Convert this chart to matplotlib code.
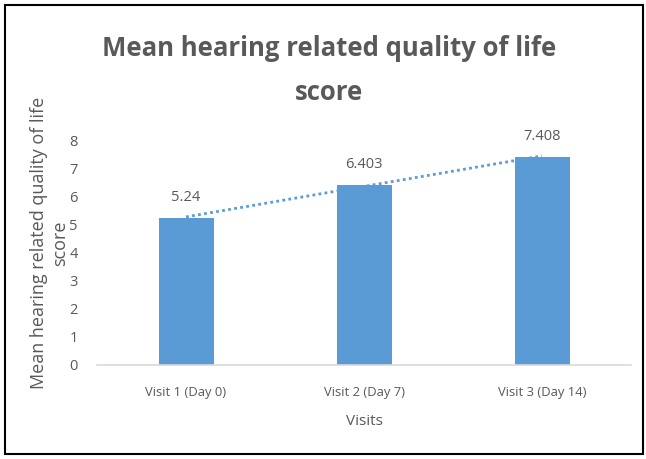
import matplotlib
matplotlib.use("Agg")
import matplotlib.pyplot as plt
import numpy as np
from matplotlib.patches import Rectangle

categories = ["Visit 1 (Day 0)", "Visit 2 (Day 7)", "Visit 3 (Day 14)"]
values = [5.24, 6.403, 7.408]
value_labels = ["5.24", "6.403", "7.408"]
yticks = [0, 1, 2, 3, 4, 5, 6, 7, 8]

plt.rcParams['font.family'] = ['Open Sans', 'DejaVu Sans']
grey = "#595959"
blue = "#5B9BD5"

fig = plt.figure(figsize=(6.46, 4.59), dpi=100)
ax = fig.add_axes([97/646, 1-365/459, (631-97)/646, (365-140)/459])

x = np.arange(len(categories))
ax.bar(x, values, width=55/178, color=blue, zorder=2)

# linear trendline
coef = np.polyfit(x, values, 1)
tx = np.array([x[0], x[-1]])
ax.plot(tx, np.polyval(coef, tx), linestyle=(0, (1, 1.2)), color=blue, lw=2, zorder=3)

for xi, v, lab in zip(x, values, value_labels):
    ax.annotate(lab, (xi, v), xytext=(0, 9), textcoords="offset points",
                ha="center", va="bottom", fontsize=10.5, color=grey)

ax.set_xlim(-0.5, 2.5)
ax.set_ylim(0, 8)
ax.set_yticks(yticks)
ax.set_xticks(x)
ax.set_xticklabels(categories, fontsize=9.4, color=grey)
ax.tick_params(axis='y', length=0, pad=14, labelcolor=grey, labelsize=10.5)
ax.tick_params(axis='x', length=0, pad=15)
for s in ["top", "right", "left"]:
    ax.spines[s].set_visible(False)
ax.spines["bottom"].set_color("#D9D9D9")
ax.spines["bottom"].set_linewidth(1.2)

ax.set_xlabel("Visits", fontsize=11, color=grey, labelpad=11)
fig.text(39/646, 1-243/459, "Mean hearing related quality of life", rotation=90,
         ha="center", va="center", fontsize=13, color=grey)
fig.text(60/646, 1-243/459, "score", rotation=90,
         ha="center", va="center", fontsize=13, color=grey)

fig.text(329/646, 1-49/459, "Mean hearing related quality of life", ha="center", va="center",
         fontsize=18.5, fontweight="bold", color=grey)
fig.text(329/646, 1-93/459, "score", ha="center", va="center",
         fontsize=18.5, fontweight="bold", color=grey)

fig.patches.append(Rectangle((5/646, 1-454/459), 638/646, 449/459, transform=fig.transFigure,
                             fill=False, edgecolor="black", linewidth=1.5))

fig.savefig("out.png", dpi=100)
